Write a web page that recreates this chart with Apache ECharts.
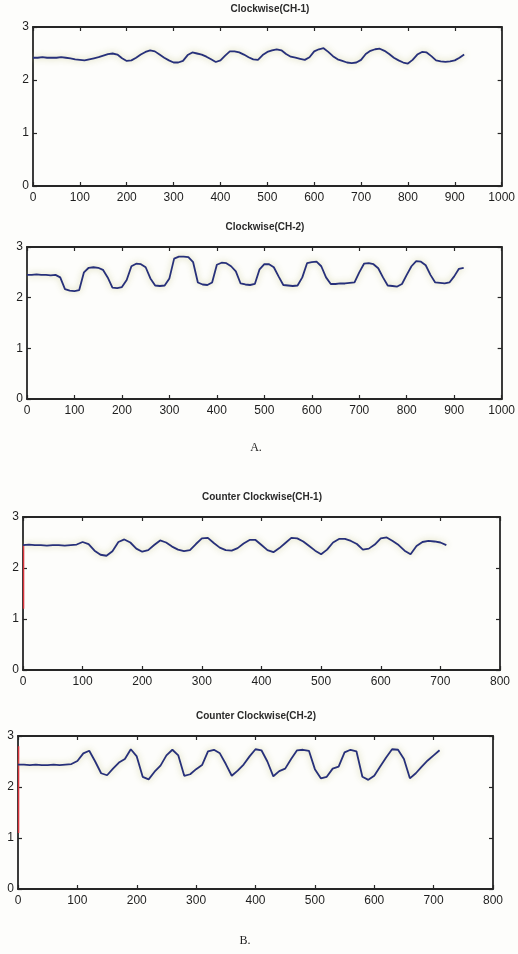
<!DOCTYPE html>
<html><head><meta charset="utf-8">
<script src="https://cdn.jsdelivr.net/npm/echarts@6/dist/echarts.min.js"></script>
<style>html,body{margin:0;padding:0;background:#fff}#c{width:518px;height:954px}</style>
</head><body><div id="c"></div>
<script>
// ---- data ----
const titles = ['Clockwise(CH-1)', 'Clockwise(CH-2)', 'Counter Clockwise(CH-1)', 'Counter Clockwise(CH-2)'];
const captions = ['A.', 'B.'];
const yTicks = [0, 1, 2, 3];
const xMaxCW = 1000;
const xMaxCCW = 800;

const xCW = [0,10,20,30,40,50,60,70,80,90,100,110,120,130,140,150,160,170,180,190,200,210,220,230,240,250,260,270,280,290,300,310,320,330,340,350,360,370,380,390,400,410,420,430,440,450,460,470,480,490,500,510,520,530,540,550,560,570,580,590,600,610,620,630,640,650,660,670,680,690,700,710,720,730,740,750,760,770,780,790,800,810,820,830,840,850,860,870,880,890,900,910,920];
const cw1 = [2.42,2.42,2.43,2.42,2.42,2.42,2.43,2.42,2.41,2.39,2.38,2.37,2.39,2.41,2.43,2.46,2.49,2.50,2.48,2.41,2.36,2.37,2.42,2.48,2.53,2.56,2.54,2.48,2.42,2.37,2.33,2.33,2.36,2.47,2.52,2.50,2.48,2.44,2.39,2.34,2.37,2.46,2.54,2.54,2.52,2.48,2.43,2.39,2.38,2.47,2.53,2.56,2.58,2.56,2.49,2.44,2.42,2.40,2.38,2.43,2.54,2.58,2.60,2.53,2.45,2.39,2.36,2.33,2.32,2.33,2.38,2.49,2.55,2.58,2.59,2.55,2.49,2.42,2.37,2.33,2.31,2.38,2.48,2.53,2.52,2.45,2.37,2.35,2.34,2.35,2.37,2.42,2.48];
const cw2 = [2.45,2.45,2.46,2.45,2.45,2.44,2.45,2.40,2.17,2.14,2.13,2.15,2.50,2.59,2.60,2.59,2.55,2.40,2.20,2.19,2.21,2.35,2.62,2.67,2.66,2.60,2.38,2.24,2.23,2.24,2.38,2.77,2.81,2.81,2.80,2.70,2.30,2.26,2.25,2.30,2.65,2.69,2.68,2.62,2.52,2.28,2.26,2.25,2.27,2.56,2.66,2.66,2.60,2.42,2.25,2.24,2.23,2.24,2.40,2.68,2.70,2.71,2.62,2.40,2.27,2.27,2.28,2.28,2.29,2.30,2.50,2.67,2.68,2.66,2.58,2.40,2.24,2.23,2.22,2.27,2.45,2.62,2.72,2.71,2.64,2.45,2.30,2.29,2.28,2.30,2.42,2.57,2.59];

const xCCW = [0,10,20,30,40,50,60,70,80,90,100,110,120,130,140,150,160,170,180,190,200,210,220,230,240,250,260,270,280,290,300,310,320,330,340,350,360,370,380,390,400,410,420,430,440,450,460,470,480,490,500,510,520,530,540,550,560,570,580,590,600,610,620,630,640,650,660,670,680,690,700,710];
const ccw1 = [2.45,2.46,2.45,2.45,2.44,2.45,2.45,2.44,2.45,2.46,2.51,2.47,2.34,2.26,2.24,2.33,2.51,2.56,2.50,2.38,2.32,2.35,2.45,2.54,2.50,2.42,2.36,2.33,2.35,2.47,2.58,2.59,2.49,2.40,2.35,2.34,2.39,2.48,2.55,2.55,2.45,2.35,2.31,2.39,2.49,2.59,2.58,2.52,2.43,2.34,2.27,2.36,2.50,2.57,2.57,2.53,2.47,2.36,2.38,2.46,2.58,2.60,2.53,2.45,2.34,2.27,2.43,2.51,2.53,2.52,2.50,2.45];
const ccw2 = [2.44,2.44,2.43,2.44,2.43,2.43,2.44,2.43,2.44,2.45,2.51,2.66,2.71,2.50,2.27,2.23,2.36,2.48,2.55,2.74,2.60,2.20,2.15,2.30,2.42,2.62,2.73,2.62,2.22,2.25,2.35,2.43,2.70,2.73,2.66,2.45,2.22,2.32,2.44,2.60,2.74,2.72,2.50,2.21,2.31,2.36,2.55,2.72,2.73,2.71,2.35,2.17,2.20,2.36,2.40,2.68,2.73,2.70,2.20,2.14,2.22,2.40,2.58,2.74,2.73,2.55,2.17,2.27,2.40,2.52,2.62,2.72];

const redX = [1, 1];
const redCCW1 = [1.2, 2.45];
const redCCW2 = [1.1, 2.8];

// ---- layout ----
const panels = [
  {x: xCW, y: cw1, max: xMaxCW, red: null, grid: {left: 33, top: 27, width: 476, height: 159}, title: [270, 4]},
  {x: xCW, y: cw2, max: xMaxCW, red: null, grid: {left: 27, top: 247, width: 475, height: 152}, title: [265, 222]},
  {x: xCCW, y: ccw1, max: xMaxCCW, red: redCCW1, grid: {left: 23, top: 517, width: 477, height: 153}, title: [262, 492]},
  {x: xCCW, y: ccw2, max: xMaxCCW, red: redCCW2, grid: {left: 18, top: 736, width: 475, height: 153}, title: [256, 711]}
];

const axisCol = '#262626';
const labelStyle = {color: '#1e1e1e', fontSize: 12, fontFamily: 'Liberation Sans, Arial, sans-serif', formatter: v => String(v)};
const grids = [], xAxes = [], yAxes = [], series = [], graphics = [];

panels.forEach((p, i) => {
  grids.push(Object.assign({containLabel: false}, p.grid));
  const tickCommon = {show: true, inside: true, length: 4, lineStyle: {color: axisCol, width: 1.2}};
  const lineCommon = {show: true, onZero: false, lineStyle: {color: axisCol, width: 1.8}};
  xAxes.push({type: 'value', gridIndex: i, position: 'bottom', min: 0, max: p.max, interval: 100,
    axisLine: lineCommon, axisTick: tickCommon, splitLine: {show: false},
    axisLabel: Object.assign({margin: 6, showMaxLabel: true}, labelStyle)});
  xAxes.push({type: 'value', gridIndex: i, position: 'top', min: 0, max: p.max, interval: 100,
    axisLine: lineCommon, axisTick: tickCommon, splitLine: {show: false}, axisLabel: {show: false}});
  yAxes.push({type: 'value', gridIndex: i, position: 'left', min: yTicks[0], max: yTicks[yTicks.length - 1], interval: 1,
    axisLine: lineCommon, axisTick: tickCommon, splitLine: {show: false},
    axisLabel: Object.assign({margin: 4}, labelStyle)});
  yAxes.push({type: 'value', gridIndex: i, position: 'right', min: yTicks[0], max: yTicks[yTicks.length - 1], interval: 1,
    axisLine: lineCommon, axisTick: tickCommon, splitLine: {show: false}, axisLabel: {show: false}});

  if (p.red) {
    series.push({type: 'line', xAxisIndex: 2 * i, yAxisIndex: 2 * i, showSymbol: false, silent: true,
      data: redX.map((v, k) => [v, p.red[k]]),
      lineStyle: {color: '#d8323a', width: 1.4}, z: 1});
  }
  series.push({type: 'line', xAxisIndex: 2 * i, yAxisIndex: 2 * i, showSymbol: false, silent: true,
    data: p.x.map((v, k) => [v, p.y[k]]),
    lineStyle: {color: '#27307a', width: 1.8, shadowColor: 'rgba(200,200,140,0.9)', shadowBlur: 6}, z: 2});

  graphics.push({type: 'text', x: p.title[0], y: p.title[1],
    style: {text: titles[i], fill: '#2a2a2a', font: 'bold 10px "Liberation Sans", Arial, sans-serif', textAlign: 'center'}});
});

graphics.push({type: 'text', x: 256, y: 442, style: {text: captions[0], fill: '#222', font: '12px "Liberation Serif", "Times New Roman", serif', textAlign: 'center'}});
graphics.push({type: 'text', x: 245, y: 935, style: {text: captions[1], fill: '#222', font: '12px "Liberation Serif", "Times New Roman", serif', textAlign: 'center'}});

const chart = echarts.init(document.getElementById('c'), null, {renderer: 'canvas'});
chart.setOption({
  animation: false,
  backgroundColor: '#fdfdfb',
  grid: grids,
  xAxis: xAxes,
  yAxis: yAxes,
  series: series,
  graphic: graphics
});
</script>
</body></html>
